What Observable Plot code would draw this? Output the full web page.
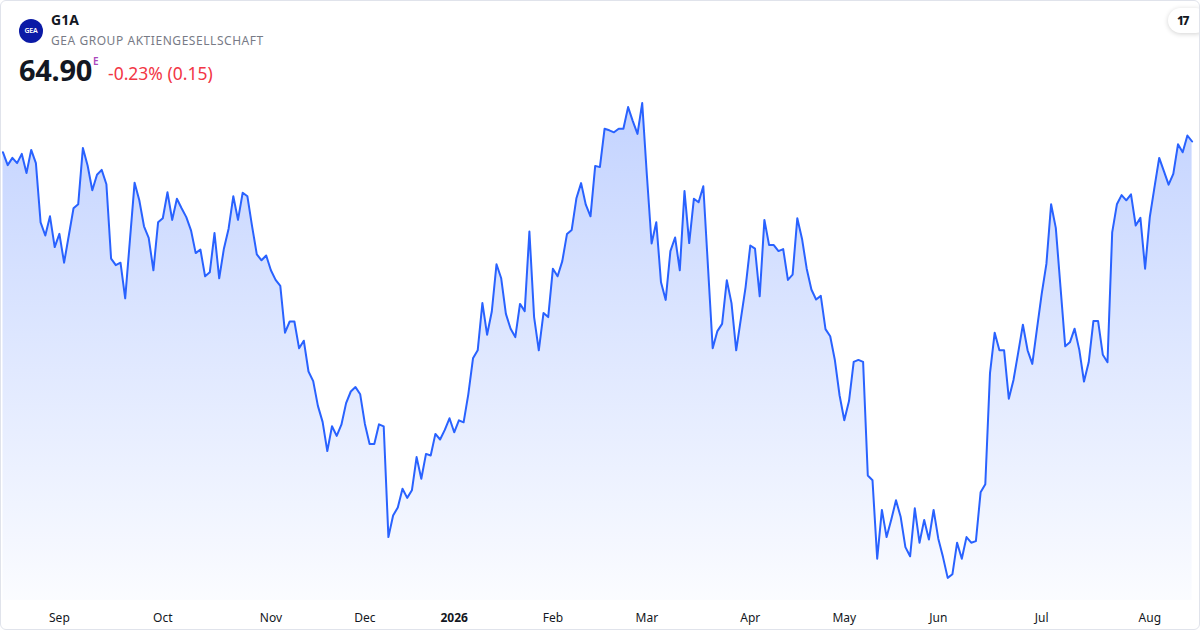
<!DOCTYPE html>
<html>
<head>
<meta charset="utf-8">
<script src="https://cdn.jsdelivr.net/npm/d3@7"></script>
<script src="https://cdn.jsdelivr.net/npm/@observablehq/plot@0.6"></script>
<style>
  body { margin: 0; background: #fff; font-family: "Noto Sans", sans-serif; }
  #wrap { position: relative; width: 1200px; height: 630px; overflow: hidden; background: #fff; }
  #head { position: absolute; left: 0; top: 0; width: 1200px; height: 95px; }
  #chart { position: absolute; left: 0; top: 95px; }
  #frame { position: absolute; left: 0; top: 0; width: 1198px; height: 628px; border: 1px solid #e0e3eb; border-radius: 6px; pointer-events: none; }
  .logo { position: absolute; left: 19px; top: 19px; width: 24px; height: 24px; border-radius: 50%; background: #0b1aa6; color: #fff; font-size: 7px; font-weight: 600; line-height: 24px; text-align: center; letter-spacing: -0.2px; }
  .sym { position: absolute; left: 51px; top: 10px; font-size: 14px; font-weight: 700; color: #131722; }
  .name { position: absolute; left: 51px; top: 32px; font-size: 12px; color: #787b86; letter-spacing: 0.55px; }
  .price { position: absolute; left: 19px; top: 50px; font-size: 29px; font-weight: 700; color: #131722; letter-spacing: -0.3px; }
  .sup { position: absolute; left: 93px; top: 54px; font-size: 10px; font-weight: 600; color: #ab47bc; }
  .chg { position: absolute; left: 108px; top: 61px; font-size: 17.5px; color: #f23645; }
  .tv { position: absolute; left: 1168px; top: 8px; width: 40px; height: 25px; border-radius: 13px; background: #fff; box-shadow: 0 1px 5px rgba(0,0,0,0.18); font-size: 12px; font-weight: 800; color: #131722; line-height: 25px; padding-left: 9px; box-sizing: border-box; letter-spacing: -1.5px; }
</style>
</head>
<body>
<div id="wrap">
  <div id="head">
    <div class="logo">GEA</div>
    <div class="sym">G1A</div>
    <div class="name">GEA GROUP AKTIENGESELLSCHAFT</div>
    <div class="price">64.90</div>
    <div class="sup">E</div>
    <div class="chg">-0.23% (0.15)</div>
    <div class="tv">17</div>
  </div>
  <div id="chart"></div>
  <div id="frame"></div>
</div>
<script>
// Daily closes (EUR), one per trading day, 14 Aug 2025 – 14 Aug 2026
const prices = [
  64.63, 64.31, 64.49, 64.36, 64.59, 64.11, 64.69, 64.36, 62.88, 62.55,
  63.03, 62.26, 62.59, 61.87, 62.55, 63.23, 63.33, 64.74, 64.30, 63.68,
  64.07, 64.19, 63.83, 61.97, 61.81, 61.87, 60.98, 62.43, 63.87, 63.43,
  62.78, 62.49, 61.68, 62.88, 62.98, 63.63, 62.94, 63.47, 63.23, 63.01,
  62.68, 62.11, 62.20, 61.53, 61.63, 62.61, 61.48, 62.22, 62.72, 63.53,
  62.94, 63.62, 63.53, 62.78, 62.08, 61.93, 62.05, 61.68, 61.44, 61.29,
  60.12, 60.40, 60.40, 59.73, 59.92, 59.15, 58.91, 58.29, 57.89, 57.16,
  57.78, 57.54, 57.82, 58.36, 58.65, 58.76, 58.58, 57.84, 57.34, 57.34,
  57.83, 57.78, 55.01, 55.55, 55.75, 56.22, 55.99, 56.18, 57.01, 56.47,
  57.09, 57.05, 57.59, 57.45, 57.69, 57.98, 57.63, 57.93, 57.88, 58.58,
  59.48, 59.68, 60.86, 60.07, 60.65, 61.83, 61.48, 60.59, 60.22, 60.01,
  60.84, 60.66, 62.65, 60.51, 59.68, 60.61, 60.51, 61.72, 61.53, 61.91,
  62.59, 62.69, 63.48, 63.86, 63.32, 63.03, 64.29, 64.26, 65.22, 65.18,
  65.13, 65.22, 65.22, 65.76, 65.41, 65.09, 65.86, 64.05, 62.35, 62.88,
  61.38, 60.94, 62.16, 62.50, 61.68, 63.66, 62.36, 63.47, 63.38, 63.78,
  61.76, 59.73, 60.16, 60.34, 61.43, 60.86, 59.68, 60.47, 61.26, 62.30,
  62.22, 61.03, 62.94, 62.31, 62.31, 62.16, 62.21, 61.44, 61.57, 62.98,
  62.47, 61.72, 61.20, 60.95, 61.04, 60.21, 60.03, 59.43, 58.55, 57.93,
  58.41, 59.39, 59.44, 59.39, 56.55, 56.43, 54.47, 55.69, 55.01, 55.45,
  55.93, 55.51, 54.76, 54.53, 55.73, 54.87, 55.44, 54.95, 55.69, 54.97,
  54.51, 53.99, 54.08, 54.87, 54.47, 55.01, 54.87, 54.91, 56.13, 56.33,
  59.11, 60.12, 59.68, 59.68, 58.47, 58.94, 59.62, 60.32, 59.68, 59.34,
  60.22, 61.09, 61.84, 63.33, 62.74, 61.26, 59.78, 59.88, 60.22, 59.69,
  58.90, 59.38, 60.41, 60.41, 59.57, 59.38, 62.63, 63.33, 63.56, 63.43,
  63.58, 62.80, 62.99, 61.72, 63.01, 63.76, 64.49, 64.16, 63.82, 64.09,
  64.83, 64.63, 65.05, 64.90
];

// Trading-day index of the first session of each month, and its label
const monthTicks = [12, 34, 57, 77, 96, 117, 137, 159, 179, 199, 221, 244];
const monthLabels = ["Sep", "Oct", "Nov", "Dec", "2026", "Feb", "Mar", "Apr", "May", "Jun", "Jul", "Aug"];
const yearTick = 96;

const data = prices.map((v, i) => ({ i, v }));
const labelOf = new Map(monthTicks.map((t, k) => [t, monthLabels[k]]));
const Y0 = 53.425, Y1 = 66.05;

const chart = Plot.plot({
  width: 1200,
  height: 535,
  marginLeft: 2.5,
  marginRight: 8.4,
  marginTop: 0,
  marginBottom: 30,
  x: { domain: [0, prices.length - 1] },
  y: { domain: [Y0, Y1], axis: null },
  style: { fontFamily: '"Noto Sans", sans-serif', background: "transparent", overflow: "visible" },
  marks: [
    Plot.areaY(data, { x: "i", y1: Y0, y2: "v", fill: "url(#g1aFill)" }),
    Plot.lineY(data, { x: "i", y: "v", stroke: "#2962ff", strokeWidth: 2, strokeLinejoin: "round" }),
    Plot.axisX({ ticks: monthTicks.filter(t => t !== yearTick), tickFormat: t => labelOf.get(t), tickSize: 0, tickPadding: 13, fontSize: 12, color: "#131722", label: null }),
    Plot.axisX({ ticks: [yearTick], tickFormat: t => labelOf.get(t), tickSize: 0, tickPadding: 13, fontSize: 12, fontWeight: "bold", color: "#131722", label: null })
  ]
});

const svg = d3.select(chart);
const defs = svg.insert("defs", ":first-child");
const grad = defs.append("linearGradient").attr("id", "g1aFill")
  .attr("x1", 0).attr("y1", 0).attr("x2", 0).attr("y2", 1);
grad.append("stop").attr("offset", "0%").attr("stop-color", "#2962ff").attr("stop-opacity", 0.28);
grad.append("stop").attr("offset", "100%").attr("stop-color", "#2962ff").attr("stop-opacity", 0.02);

document.getElementById("chart").appendChild(chart);
</script>
</body>
</html>
